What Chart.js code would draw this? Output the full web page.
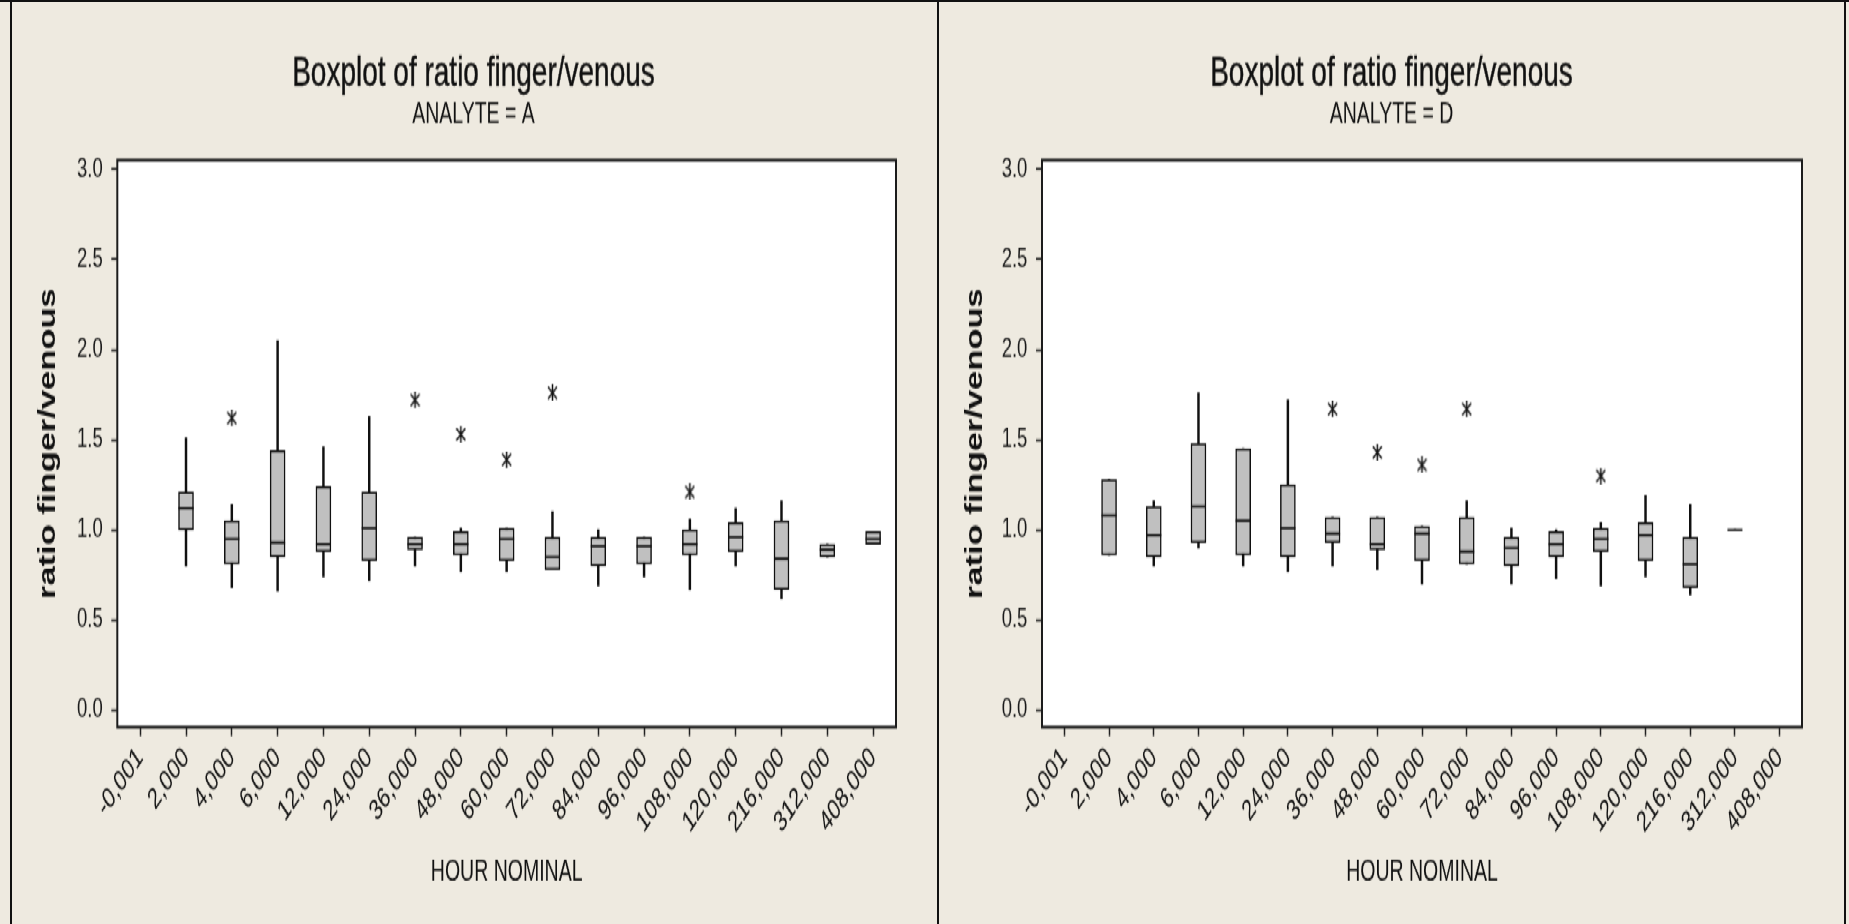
<!DOCTYPE html>
<html>
<head>
<meta charset="utf-8">
<script src="https://cdn.jsdelivr.net/npm/chart.js@4.4.1/dist/chart.umd.min.js"></script>
<style>
  html, body { margin: 0; padding: 0; width: 1849px; height: 924px; overflow: hidden; background: #eeeae0; }
  /* both panels are laid out on a 616px-high stage that is stretched to the full window height */
  #stage { position: absolute; left: 0; top: 0; width: 1849px; height: 616px; transform: scaleY(1.5); transform-origin: 0 0; }
  #stage canvas { position: absolute; top: 0; }
  .rule { position: absolute; background: #111; }
</style>
</head>
<body>
<div id="stage">
  <canvas id="chartA" width="937" height="616" style="left:0px"></canvas>
  <canvas id="chartD" width="911" height="616" style="left:938px"></canvas>
</div>
<div class="rule" style="left:0;top:0;width:1849px;height:2px"></div>
<div class="rule" style="left:10px;top:0;width:2px;height:924px"></div>
<div class="rule" style="left:937px;top:0;width:2px;height:924px"></div>
<div class="rule" style="left:1844px;top:0;width:2px;height:924px"></div>

<script>
// ---- data ----
const hours = ['-0,001', '2,000', '4,000', '6,000', '12,000', '24,000', '36,000', '48,000', '60,000',
               '72,000', '84,000', '96,000', '108,000', '120,000', '216,000', '312,000', '408,000'];
const yTicks = [0, 0.5, 1.0, 1.5, 2.0, 2.5, 3.0];

// Analyte A: whisker ends, quartiles, medians, outliers (null = no observation)
const aLow  = [null, 0.80, 0.68, 0.66, 0.74, 0.72, 0.80, 0.77, 0.77, 0.78, 0.69, 0.74, 0.67, 0.80, 0.62, 0.85, 0.92];
const aQ1   = [null, 1.00, 0.81, 0.85, 0.88, 0.83, 0.89, 0.86, 0.83, 0.78, 0.80, 0.81, 0.86, 0.88, 0.67, 0.85, 0.92];
const aMed  = [null, 1.12, 0.95, 0.93, 0.92, 1.01, 0.92, 0.92, 0.95, 0.85, 0.91, 0.91, 0.92, 0.96, 0.84, 0.89, 0.95];
const aQ3   = [null, 1.21, 1.05, 1.44, 1.24, 1.21, 0.96, 0.99, 1.01, 0.96, 0.96, 0.96, 1.00, 1.04, 1.05, 0.92, 0.99];
const aHigh = [null, 1.51, 1.14, 2.05, 1.46, 1.63, 0.96, 1.01, 1.01, 1.10, 1.00, 0.96, 1.06, 1.12, 1.16, 0.92, 0.99];
const aOut  = [null, null, 1.62, null, null, null, 1.72, 1.53, 1.39, 1.76, null, null, 1.21, null, null, null, null];

// Analyte D
const dLow  = [null, 0.86, 0.80, 0.90, 0.80, 0.77, 0.80, 0.78, 0.70, 0.81, 0.70, 0.73, 0.69, 0.74, 0.64, 1.00, null];
const dQ1   = [null, 0.86, 0.85, 0.93, 0.86, 0.85, 0.93, 0.89, 0.83, 0.81, 0.80, 0.85, 0.88, 0.83, 0.68, 1.00, null];
const dMed  = [null, 1.08, 0.97, 1.13, 1.05, 1.01, 0.98, 0.92, 0.98, 0.88, 0.90, 0.92, 0.95, 0.97, 0.81, 1.00, null];
const dQ3   = [null, 1.28, 1.13, 1.48, 1.45, 1.25, 1.07, 1.07, 1.02, 1.07, 0.96, 0.99, 1.01, 1.04, 0.96, 1.00, null];
const dHigh = [null, 1.28, 1.16, 1.76, 1.45, 1.72, 1.07, 1.07, 1.02, 1.16, 1.01, 1.00, 1.04, 1.19, 1.14, 1.00, null];
const dOut  = [null, null, null, null, null, null, 1.67, 1.43, 1.36, 1.67, null, null, 1.30, null, null, null, null];

const chartTitle = 'Boxplot of ratio finger/venous';
const yTitle = 'ratio finger/venous';
const xTitle = 'HOUR NOMINAL';

// ---- drawing helpers ----
const FONT = '"Liberation Sans", Arial, sans-serif';
const INK = '#111111';

// outlier symbol: asterisk drawn once and reused as a point style
function makeAsterisk() {
  const c = document.createElement('canvas');
  c.width = 11; c.height = 11;
  const g = c.getContext('2d');
  g.strokeStyle = INK;
  g.lineWidth = 1.5;
  g.beginPath();
  g.moveTo(5.5, 0); g.lineTo(5.5, 11);
  g.moveTo(1, 1.5); g.lineTo(10, 9.5);
  g.moveTo(10, 1.5); g.lineTo(1, 9.5);
  g.stroke();
  return c;
}
const asterisk = makeAsterisk();

// white plot area with a dark frame
const plotFrame = {
  id: 'plotFrame',
  beforeDraw(chart) {
    const { ctx, chartArea: a } = chart;
    ctx.save();
    ctx.fillStyle = '#ffffff';
    ctx.fillRect(a.left, a.top, a.right - a.left, a.bottom - a.top);
    ctx.restore();
  },
  afterDraw(chart) {
    const { ctx, chartArea: a } = chart;
    ctx.save();
    ctx.strokeStyle = '#1c1c1c';
    ctx.lineWidth = 2;
    ctx.strokeRect(a.left, a.top, a.right - a.left, a.bottom - a.top);
    ctx.restore();
  }
};

// two-line heading centred over each panel
const panelHeadings = {
  id: 'panelHeadings',
  afterDraw(chart, args, opts) {
    const ctx = chart.ctx;
    ctx.save();
    ctx.fillStyle = INK;
    ctx.strokeStyle = INK;
    ctx.lineWidth = 0.35;
    ctx.textAlign = 'center';
    ctx.textBaseline = 'alphabetic';
    ctx.font = '28px ' + FONT;
    ctx.fillText(opts.title, opts.centerX, opts.titleY);
    ctx.strokeText(opts.title, opts.centerX, opts.titleY);
    ctx.font = '19.5px ' + FONT;
    ctx.fillText(opts.subtitle, opts.centerX, opts.subtitleY);
    ctx.restore();
  }
};

function pairs(lo, hi) {
  return lo.map((v, i) => (v === null || hi[i] === null) ? null : [v, hi[i]]);
}

function buildChart(id, analyte, low, q1, med, q3, high, out, geom) {
  const tickGrid = {
    display: true, drawOnChartArea: false, drawTicks: true,
    tickLength: 6, tickColor: '#222', tickWidth: 1.5, offset: false
  };
  return new Chart(document.getElementById(id), {
    type: 'bar',
    data: {
      labels: hours,
      datasets: [
        { type: 'line', data: out, order: 0, showLine: false,
          pointStyle: asterisk, pointRadius: 5, pointBorderWidth: 0 },
        { type: 'line', data: med, order: 1, showLine: false,
          pointStyle: 'line', pointRadius: 7.5, pointBorderWidth: 1.6,
          pointBorderColor: INK, pointBackgroundColor: INK },
        { type: 'bar', data: pairs(q1, q3), order: 2, grouped: false,
          barThickness: 15, backgroundColor: '#c0c0c0', borderColor: INK,
          borderWidth: 1.5, borderSkipped: false },
        { type: 'bar', data: pairs(low, high), order: 3, grouped: false,
          barThickness: 1.8, backgroundColor: INK, borderWidth: 0 }
      ]
    },
    options: {
      responsive: false,
      animation: false,
      devicePixelRatio: 1,
      events: [],
      layout: { padding: { left: 0, right: geom.padRight, top: 106.67, bottom: 0 } },
      plugins: {
        legend: { display: false },
        tooltip: { enabled: false },
        panelHeadings: {
          title: chartTitle, subtitle: 'ANALYTE = ' + analyte,
          centerX: geom.headX, titleY: 57.3, subtitleY: 81.7
        }
      },
      scales: {
        x: {
          type: 'category', offset: true,
          grid: tickGrid,
          border: { display: false },
          ticks: { autoSkip: false, minRotation: 45, maxRotation: 45, padding: 3,
                   color: '#111', font: { family: FONT, size: 19.5 } },
          title: { display: true, text: xTitle, color: INK,
                   font: { family: FONT, size: 19.5 }, padding: { top: 0, bottom: 22.6 } },
          afterFit: s => { s.height = 131.33; }
        },
        y: {
          type: 'linear', min: -0.0944, max: 3.0516,
          grid: tickGrid,
          border: { display: false },
          afterBuildTicks: s => { s.ticks = yTicks.map(v => ({ value: v })); },
          ticks: { padding: 8.6, color: '#1a1a1a', font: { family: FONT, size: 18.5 },
                   callback: v => Number(v).toFixed(1) },
          title: { display: true, text: yTitle, color: INK,
                   font: { family: FONT, size: 23, weight: 'bold' }, padding: { top: geom.yTitlePad } },
          afterFit: s => { s.width = geom.yWidth; }
        }
      }
    },
    plugins: [plotFrame, panelHeadings]
  });
}

buildChart('chartA', 'A', aLow, aQ1, aMed, aQ3, aHigh, aOut,
           { padRight: 41, yWidth: 117.3, yTitlePad: 35, headX: 473.5 });
buildChart('chartD', 'D', dLow, dQ1, dMed, dQ3, dHigh, dOut,
           { padRight: 47, yWidth: 104, yTitlePad: 24, headX: 453.5 });
</script>
</body>
</html>
